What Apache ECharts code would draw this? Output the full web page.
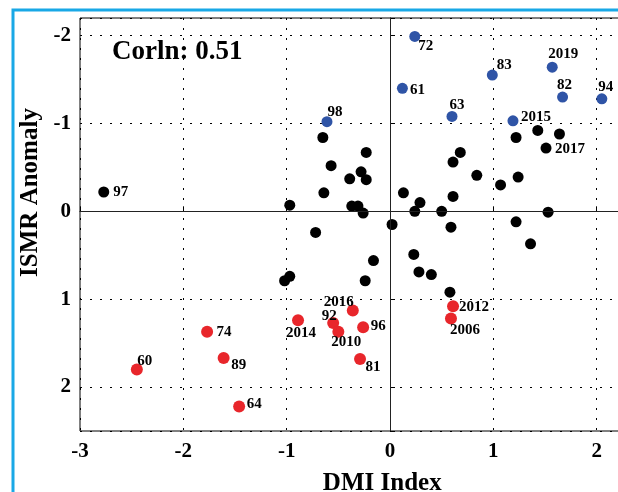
<!DOCTYPE html>
<html><head><meta charset="utf-8">
<script src="https://cdn.jsdelivr.net/npm/echarts@6/dist/echarts.min.js"></script>
<style>html,body{margin:0;padding:0;background:#fff}#c{width:618px;height:492px}</style>
</head><body><div id="c"></div>
<script>
// ---- data ----
const blueLabels = ['72','83','2019','61','82','94','63','2015','98'];
const blueX = [0.24, 0.99, 1.57, 0.12, 1.67, 2.05, 0.60, 1.19, -0.61];
const blueY = [-1.99, -1.55, -1.64, -1.40, -1.30, -1.28, -1.08, -1.03, -1.02];

const redLabels = ['2016','2014','92','2010','96','81','2012','2006','74','89','60','64'];
const redX = [-0.36, -0.89, -0.55, -0.50, -0.26, -0.29, 0.61, 0.59, -1.77, -1.61, -2.45, -1.46];
const redY = [1.13, 1.24, 1.27, 1.37, 1.32, 1.68, 1.08, 1.22, 1.37, 1.67, 1.80, 2.22];

const blackLabels = ['97','','','','','','','','','','','','','','','','','','','','','','','','','','','','','','','','2017','','','','','','',''];
const blackX = [-2.77, -0.97, -0.65, -0.57, -0.64, -0.72, -1.02, -0.97, -0.23, -0.28,
                -0.39, -0.23, -0.37, -0.31, -0.26, 0.02, -0.16, -0.24, 0.13, 0.29,
                 0.24, 0.50, 0.59, 0.61, 0.61, 0.68, 0.84, 1.07, 1.24, 1.22,
                 1.43, 1.64, 1.51, 1.53, 1.22, 1.36, 0.23, 0.28, 0.40, 0.58];
const blackY = [-0.22, -0.07, -0.84, -0.52, -0.21, 0.24, 0.79, 0.74, -0.67, -0.45,
                -0.37, -0.36, -0.06, -0.06, 0.02, 0.15, 0.56, 0.79, -0.21, -0.10,
                 0.00, 0.00, 0.18, -0.17, -0.56, -0.67, -0.41, -0.30, -0.39, -0.84,
                -0.92, -0.88, -0.72, 0.01, 0.12, 0.37, 0.49, 0.69, 0.72, 0.92];

const xTicks = [-3, -2, -1, 0, 1, 2];
const yTicks = [-2, -1, 0, 1, 2];
const corrText = 'Corln: 0.51';

// ---- styling / label placement ----
const labelOffsets = {
  '72':[11,10], '83':[12,-10], '2019':[11,-13], '61':[15,2], '82':[2,-12], '94':[4,-12],
  '63':[5,-11], '2015':[23,-4], '98':[8,-10], '97':[17,0], '2017':[24,1],
  '2016':[-14,-8], '92':[-4,-7], '2014':[3,13], '2010':[8,10], '96':[15,-1], '81':[13,8],
  '2012':[21,1], '2006':[14,12], '74':[17,0], '89':[15,7], '60':[8,-8], '64':[15,-2]
};
const serif = "'Liberation Serif', 'DejaVu Serif', serif";

function build(xs, ys, labels) {
  return xs.map((x, i) => {
    const name = labels[i] || '';
    const item = { value: [x, ys[i]], name: name };
    if (name) {
      item.label = { show: true, position: 'inside', offset: labelOffsets[name] || [12, 0],
        formatter: name, color: '#000', fontFamily: serif, fontWeight: 'bold', fontSize: 15,
        textBorderWidth: 0 };
    }
    return item;
  });
}
const isTick = (v, ticks) => ticks.some(t => Math.abs(t - v) < 1e-6);

const chart = echarts.init(document.getElementById('c'), null, { renderer: 'canvas' });
chart.setOption({
  animation: false,
  backgroundColor: '#fff',
  grid: { left: 80, top: 18, right: -4.5, bottom: 61, show: true, borderColor: '#000', borderWidth: 1,
    containLabel: false, outerBoundsMode: 'none' },
  xAxis: {
    type: 'value', min: -3, max: 2.25, interval: 1,
    name: 'DMI Index', nameLocation: 'middle', nameGap: 40,
    nameTextStyle: { fontFamily: serif, fontWeight: 'bold', fontSize: 25, color: '#000', padding: [0, 0, 0, 62] },
    axisLine: { show: true, lineStyle: { color: '#000', width: 1 } },
    axisTick: { show: true, inside: true, length: 5, lineStyle: { color: '#000' } },
    splitLine: { show: true, lineStyle: { color: '#000', width: 1, type: [2, 8] } },
    axisLabel: { fontFamily: serif, fontWeight: 'bold', fontSize: 21, color: '#000', margin: 10,
      formatter: v => isTick(v, xTicks) ? String(Math.round(v)) : '' }
  },
  yAxis: {
    type: 'value', inverse: true, min: -2.2, max: 2.5, minInterval: 1, maxInterval: 1,
    name: 'ISMR Anomaly', nameLocation: 'middle', nameGap: 37,
    nameTextStyle: { fontFamily: serif, fontWeight: 'bold', fontSize: 25, color: '#000', padding: [0, 0, 0, 64] },
    axisLine: { show: true, lineStyle: { color: '#000', width: 1 } },
    axisTick: { show: true, inside: true, length: 5, lineStyle: { color: '#000' } },
    splitLine: { show: true, lineStyle: { color: '#000', width: 1, type: [2, 8] } },
    axisLabel: { fontFamily: serif, fontWeight: 'bold', fontSize: 21, color: '#000', margin: 9,
      formatter: v => isTick(v, yTicks) ? String(Math.round(v)) : '' }
  },
  graphic: [
    { type: 'polyline', silent: true, z: 100,
      shape: { points: [[13, 492], [13, 10], [620, 10]] },
      style: { stroke: '#19a8e6', lineWidth: 3, fill: null } },
    { type: 'text', x: 112, y: 52, z: 100,
      style: { text: corrText, fontFamily: serif, fontWeight: 'bold', fontSize: 27, fill: '#000',
        verticalAlign: 'middle', align: 'left' } }
  ],
  series: [
    { type: 'scatter', name: 'normal', symbolSize: 11, itemStyle: { color: '#000', opacity: 1 },
      data: build(blackX, blackY, blackLabels), z: 3,
      markLine: { silent: true, symbol: ['none', 'none'], label: { show: false },
        lineStyle: { color: '#222', type: 'solid', width: 1 },
        data: [{ xAxis: 0 }, { yAxis: 0 }] } },
    { type: 'scatter', name: 'dry', symbolSize: 12, itemStyle: { color: '#e8262b', opacity: 1 },
      data: build(redX, redY, redLabels), z: 4 },
    { type: 'scatter', name: 'wet', symbolSize: 11, itemStyle: { color: '#2f54a6', opacity: 1 },
      data: build(blueX, blueY, blueLabels), z: 5 }
  ]
});
</script></body></html>
